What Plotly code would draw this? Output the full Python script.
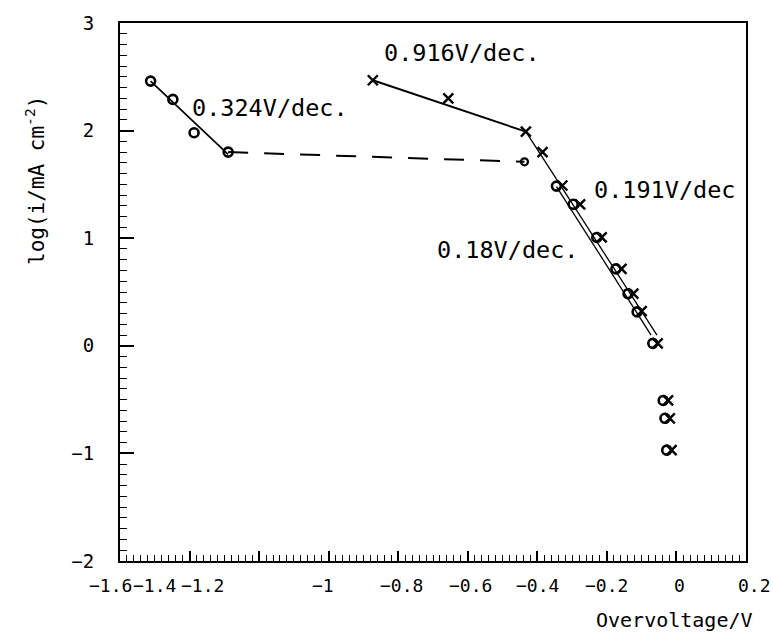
import plotly.graph_objects as go

# ---------------- data ----------------
# low-overvoltage circles with 0.324 V/dec fit
circ_left_x = [-1.512, -1.448, -1.387, -1.289]
circ_left_y = [2.46, 2.29, 1.98, 1.80]
fit324_x = [-1.512, -1.289]
fit324_y = [2.46, 1.78]

# dashed connection
dash_x = [-1.289, -0.437]
dash_y = [1.80, 1.71]
small_circ_x = [-0.437]
small_circ_y = [1.71]

# crosses
cross_x = [-0.873, -0.656, -0.433, -0.385, -0.328, -0.277, -0.215, -0.158, -0.124, -0.100,
           -0.054, -0.024, -0.019, -0.014]
cross_y = [2.468, 2.30, 1.99, 1.80, 1.49, 1.315, 1.007, 0.715, 0.484, 0.322,
           0.023, -0.508, -0.674, -0.970]

# circles on the steep branch
circ_right_x = [-0.345, -0.297, -0.229, -0.174, -0.139, -0.113, -0.068, -0.038, -0.033, -0.028]
circ_right_y = [1.484, 1.315, 1.007, 0.715, 0.484, 0.315, 0.023, -0.508, -0.674, -0.970]

# fit lines
fit916_x = [-0.873, -0.433]
fit916_y = [2.468, 1.99]
fit191_x = [-0.433, -0.056]
fit191_y = [1.99, 0.10]
fit18_x = [-0.345, -0.073]
fit18_y = [1.48, 0.10]

# slope labels
slope_text = ["0.916V/dec.", "0.324V/dec.", "0.191V/dec", "0.18V/dec."]
slope_x = [-0.617, -1.170, -0.033, -0.486]
slope_y = [2.72, 2.21, 1.45, 0.895]

# axis ticks
x_tick_vals = [-1.6, -1.4, -1.2, -1.0, -0.8, -0.6, -0.4, -0.2, 0.0, 0.2]
x_tick_text = ["−1.6", "−1.4", "−1.2", "−1", "−0.8", "−0.6", "−0.4", "−0.2", "0", "0.2"]
y_tick_vals = [-2, -1, 0, 1, 2, 3]
y_tick_text = ["−2", "−1", "0", "1", "2", "3"]

# ---------------- figure ----------------
MONO = "DejaVu Sans Mono"
fig = go.Figure()

fig.add_trace(go.Scatter(x=fit324_x, y=fit324_y, mode="lines", line=dict(color="black", width=1.7), showlegend=False))
fig.add_trace(go.Scatter(x=fit916_x, y=fit916_y, mode="lines", line=dict(color="black", width=1.9), showlegend=False))
fig.add_trace(go.Scatter(x=fit191_x, y=fit191_y, mode="lines", line=dict(color="black", width=1.3), showlegend=False))
fig.add_trace(go.Scatter(x=fit18_x, y=fit18_y, mode="lines", line=dict(color="black", width=1.3), showlegend=False))
fig.add_trace(go.Scatter(x=dash_x, y=dash_y, mode="lines",
                         line=dict(color="black", width=2, dash="20px,16px"), showlegend=False))

fig.add_trace(go.Scatter(x=circ_left_x, y=circ_left_y, mode="markers",
                         marker=dict(symbol="circle-open", size=9, color="black", line=dict(width=2.6)),
                         showlegend=False))
fig.add_trace(go.Scatter(x=small_circ_x, y=small_circ_y, mode="markers",
                         marker=dict(symbol="circle-open", size=7, color="black", line=dict(width=2.2)),
                         showlegend=False))
fig.add_trace(go.Scatter(x=circ_right_x, y=circ_right_y, mode="markers",
                         marker=dict(symbol="circle-open", size=9, color="black", line=dict(width=2.6)),
                         showlegend=False))
fig.add_trace(go.Scatter(x=cross_x, y=cross_y, mode="markers",
                         marker=dict(symbol="x-thin-open", size=10, color="black", line=dict(width=2.4)),
                         showlegend=False))

for t, x, y in zip(slope_text, slope_x, slope_y):
    fig.add_annotation(x=x, y=y, xref="x", yref="y", text=t, showarrow=False,
                       font=dict(family=MONO, size=23.5, color="black"),
                       xanchor="center", yanchor="middle")

# x tick labels (as on the original plotter output, the first three are crowded left)
x_label_shift = [-10, -35, -57, -6, 3, 3, 0, 0, 3, 8]
for v, t, s in zip(x_tick_vals, x_tick_text, x_label_shift):
    fig.add_annotation(x=v, y=0, xref="x", yref="paper", text=t, showarrow=False,
                       font=dict(family=MONO, size=18, color="black"),
                       xanchor="center", yanchor="middle", xshift=s, yshift=-24)

# axis titles
fig.add_annotation(x=1.0144, y=0, xref="paper", yref="paper", text="Overvoltage/V", showarrow=False,
                   font=dict(family=MONO, size=20, color="black"),
                   xanchor="right", yanchor="middle", yshift=-59)
fig.add_annotation(x=-0.136, y=0.708, xref="paper", yref="paper",
                   text="log(i/mA cm<sup>-2</sup>)", showarrow=False, textangle=-90,
                   font=dict(family=MONO, size=21, color="black"),
                   xanchor="center", yanchor="middle")

fig.update_layout(
    width=773, height=640,
    margin=dict(l=120, r=27, t=19, b=79),
    paper_bgcolor="white", plot_bgcolor="white",
    xaxis=dict(range=[-1.6, 0.2], tickvals=x_tick_vals, showticklabels=False,
               showline=True, linecolor="black", linewidth=2, mirror=True,
               ticks="inside", ticklen=10, tickwidth=1.5, tickcolor="black",
               minor=dict(dtick=0.02, tick0=-1.6, ticks="inside", ticklen=6, tickwidth=1.2, tickcolor="black"),
               showgrid=False, zeroline=False),
    yaxis=dict(range=[-2, 3], tickvals=y_tick_vals, ticktext=y_tick_text,
               tickfont=dict(family=MONO, size=19, color="black"),
               showline=True, linecolor="black", linewidth=2, mirror=True,
               ticks="inside", ticklen=14, tickwidth=1.5, tickcolor="black",
               ticklabelstandoff=20,
               minor=dict(dtick=0.1, tick0=-2, ticks="inside", ticklen=7, tickwidth=1.2, tickcolor="black"),
               showgrid=False, zeroline=False),
)

# remove the browser's default 8px body margin so the figure fills the window exactly
fig.write_html("out.html", config={"displayModeBar": False},
               post_script="document.body.style.margin='0';document.body.style.overflow='hidden';")
